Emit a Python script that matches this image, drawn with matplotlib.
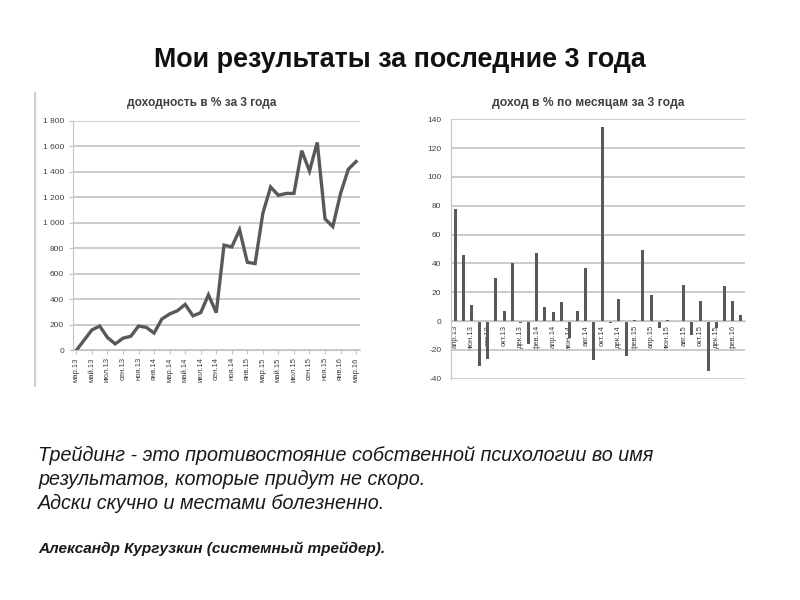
import matplotlib
matplotlib.use("Agg")
import matplotlib.pyplot as plt
from matplotlib.lines import Line2D
import numpy as np

plt.rcParams['font.family'] = ['Liberation Sans', 'DejaVu Sans']
plt.rcParams['axes.unicode_minus'] = False

# ---- data: cumulative return, % (мар.13 .. мар.16) ----
months_cum = ['мар.13', 'апр.13', 'май.13', 'июн.13', 'июл.13', 'авг.13', 'сен.13', 'окт.13',
              'ноя.13', 'дек.13', 'янв.14', 'фев.14', 'мар.14', 'апр.14', 'май.14', 'июн.14',
              'июл.14', 'авг.14', 'сен.14', 'окт.14', 'ноя.14', 'дек.14', 'янв.15', 'фев.15',
              'мар.15', 'апр.15', 'май.15', 'июн.15', 'июл.15', 'авг.15', 'сен.15', 'окт.15',
              'ноя.15', 'дек.15', 'янв.16', 'фев.16', 'мар.16']
cum_values = [0, 80, 160, 190, 100, 50, 95, 110, 190, 180, 135, 245, 285, 310, 360, 270,
              295, 435, 295, 825, 810, 945, 690, 680, 1075, 1280, 1215, 1230, 1230, 1565,
              1405, 1630, 1030, 970, 1230, 1420, 1480]

# ---- data: monthly return, % (апр.13 .. мар.16) ----
months_mon = months_cum[1:]
mon_values = [78, 46, 11, -31, -26, 30, 7, 40, -1.5, -16, 47, 10, 6, 13, -12, 7, 37, -27,
              135, -1.5, 15, -24, 1, 49, 18, -5, 0.5, -0.4, 25, -10, 14, -35, -5, 24, 14, 4]

title_main = 'Мои результаты за последние 3 года'
title_left = 'доходность в % за 3 года'
title_right = 'доход в % по месяцам за 3 года'
quote_lines = ['Трейдинг - это противостояние собственной психологии во имя',
               'результатов, которые придут не скоро.',
               'Адски скучно и местами болезненно.']
author = 'Александр Кургузкин (системный трейдер).'

GRID = '#c4c4c4'
DARK = '#595959'
TXT = '#404040'

fig = plt.figure(figsize=(8, 6), dpi=100)
fig.patch.set_facecolor('white')

fig.text(400 / 800, 1 - 60 / 600, title_main, ha='center', va='center',
         fontsize=19.4, fontweight='bold', color='#111111')

# left decorative border line
fig.add_artist(Line2D([35 / 800, 35 / 800], [1 - 93 / 600, 1 - 386 / 600],
                      color='#cfcfcf', lw=1.5, transform=fig.transFigure))

# ---- left chart ----
ax1 = fig.add_axes([72.5 / 800, 1 - 350.3 / 600, (360 - 72.5) / 800, (350.3 - 120.7) / 600])
x1 = np.arange(len(cum_values))
ax1.plot(x1, cum_values, color=DARK, lw=2.4, solid_joinstyle='miter')
ax1.set_xlim(-0.5, len(cum_values) - 0.5)
ax1.set_ylim(0, 1800)
yt = np.arange(0, 1801, 200)
ax1.set_yticks(yt)
ax1.set_yticklabels([f'{v:,}'.replace(',', ' ') for v in yt], fontsize=6, color=TXT)
ax1.set_xticks(x1[::2])
ax1.set_xticklabels(months_cum[::2], rotation=90, fontsize=5.5, color=TXT)
ax1.grid(axis='y', color=GRID, lw=1.2)
ax1.set_axisbelow(True)
for s in ['top', 'right']:
    ax1.spines[s].set_visible(False)
ax1.spines['left'].set_color(GRID)
ax1.spines['bottom'].set_color(GRID)
ax1.tick_params(axis='y', length=3, color=GRID, pad=3)
ax1.tick_params(axis='x', length=3, color=GRID, pad=2)
fig.text(202 / 800, 1 - 103 / 600, title_left, ha='center', va='center',
         fontsize=8.6, fontweight='bold', color=TXT)

# ---- right chart ----
ax2 = fig.add_axes([451 / 800, 1 - 378.7 / 600, (745 - 451) / 800, (378.7 - 119.3) / 600])
x2 = np.arange(len(mon_values))
ax2.bar(x2, mon_values, width=0.38, color=DARK)
ax2.set_xlim(-0.5, len(mon_values) - 0.5)
ax2.set_ylim(-40, 140)
ax2.set_yticks(np.arange(-40, 141, 20))
ax2.tick_params(axis='y', labelsize=6, labelcolor=TXT, length=0, pad=7)
ax2.grid(axis='y', color=GRID, lw=1.2)
ax2.set_axisbelow(True)
for s in ['top', 'right']:
    ax2.spines[s].set_visible(False)
ax2.spines['left'].set_color(GRID)
ax2.spines['bottom'].set_color(GRID)
ax2.spines['bottom'].set_position(('data', 0))
ax2.set_xticks(x2[::2])
ax2.set_xticklabels(months_mon[::2], rotation=90, fontsize=5.5, color=TXT)
ax2.tick_params(axis='x', length=0, pad=3)
fig.text(588 / 800, 1 - 103 / 600, title_right, ha='center', va='center',
         fontsize=8.7, fontweight='bold', color=TXT)

# ---- quote text ----
ys = [455, 479, 503]
for line, y in zip(quote_lines, ys):
    fig.text(38 / 800, 1 - y / 600, line, ha='left', va='center', fontsize=14.2,
             fontstyle='italic', color='#1a1a1a')
fig.text(38 / 800, 1 - 549 / 600, author, ha='left', va='center', fontsize=11.1,
         fontstyle='italic', fontweight='bold', color='#1a1a1a')

fig.savefig('out.png', dpi=100, facecolor='white')
